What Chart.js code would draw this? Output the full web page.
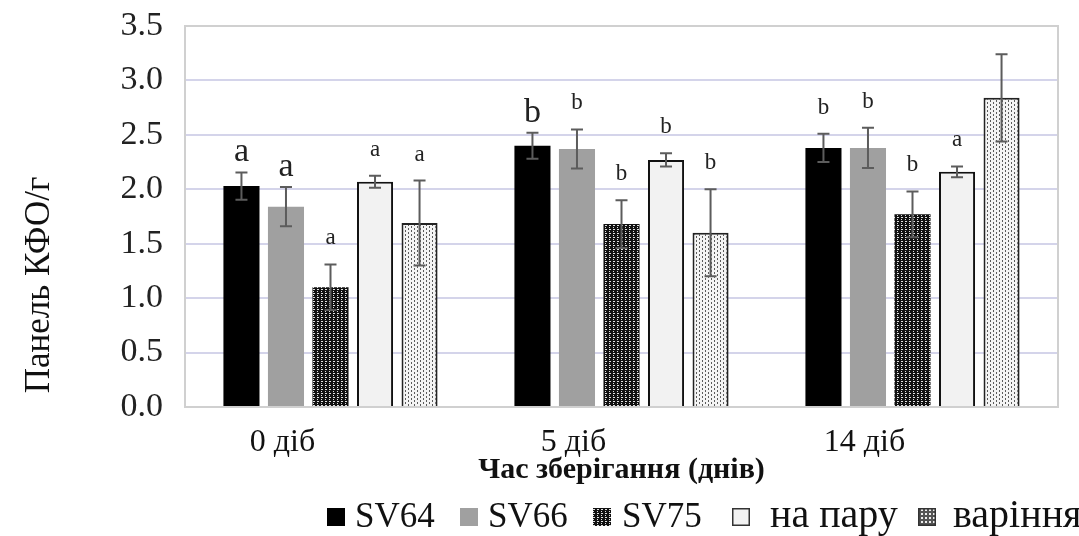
<!DOCTYPE html>
<html>
<head>
<meta charset="utf-8">
<script src="https://cdn.jsdelivr.net/npm/chart.js@4"></script>
<style>
  html, body { margin: 0; padding: 0; background: #fff; }
  #wrap { width: 1079px; height: 536px; position: relative; }
</style>
</head>
<body>
<div id="wrap"><canvas id="kfoChart"></canvas></div>
<script>
// дані
const categories = ["0 діб", "5 діб", "14 діб"];
const seriesNames = ["SV64", "SV66", "SV75", "на пару", "варіння"];

const sv64 = [2.03, 2.40, 2.38];
const sv66 = [1.84, 2.37, 2.38];
const sv75 = [1.10, 1.68, 1.77];
const naParu = [2.07, 2.27, 2.16];
const varinnia = [1.69, 1.60, 2.84];

const errSv64 = [0.125, 0.12, 0.13];
const errSv66 = [0.18, 0.18, 0.185];
const errSv75 = [0.21, 0.22, 0.21];
const errNaParu = [0.055, 0.06, 0.05];
const errVarinnia = [0.39, 0.40, 0.40];

const lettersSv64 = ["a", "b", "b"];
const lettersSv66 = ["a", "b", "b"];
const lettersSv75 = ["a", "b", "b"];
const lettersNaParu = ["a", "b", "a"];
const lettersVarinnia = ["a", "b", ""];

const yMin = 0;
const yMax = 3.5;
const yStep = 0.5;

const serif = "'Liberation Serif', 'Times New Roman', serif";

const canvas = document.getElementById("kfoChart");
const ctx = canvas.getContext("2d");

// візерунки заливки
function makePattern(bg, fg, w, h, rects) {
  const c = document.createElement("canvas");
  c.width = w;
  c.height = h;
  const p = c.getContext("2d");
  p.fillStyle = bg;
  p.fillRect(0, 0, w, h);
  p.fillStyle = fg;
  rects.forEach((r) => p.fillRect(r[0], r[1], r[2], r[3]));
  return ctx.createPattern(c, "repeat");
}

const checkDark = makePattern("#111", "#e0e0e0", 4, 4, [[1, 1, 2, 1], [1, 3, 1, 1]]);
const dotsLight = makePattern("#f4f4f4", "#5a5a5a", 6, 4, [[0, 0, 1, 2], [3, 2, 1, 2]]);
const dotsLegend = makePattern("#555", "#eee", 4, 4, [[1, 1, 2, 2]]);

const fills = ["#000000", "#a0a0a0", checkDark, "#f2f2f2", dotsLight];
const legendFills = ["#000000", "#a0a0a0", checkDark, "#f2f2f2", dotsLegend];
const borders = ["#000000", "#a0a0a0", "#111111", "#111111", "#222222"];
const borderWidths = [0, 0, 0, 2, 2];

const values = [sv64, sv66, sv75, naParu, varinnia];
const errors = [errSv64, errSv66, errSv75, errNaParu, errVarinnia];
const letters = [lettersSv64, lettersSv66, lettersSv75, lettersNaParu, lettersVarinnia];
// великі літери (набір_категорія)
const bigLetters = ["0_0", "1_0", "0_1"];

const datasets = seriesNames.map((name, i) => ({
  label: name,
  data: values[i],
  errors: errors[i],
  letters: letters[i],
  backgroundColor: fills[i],
  borderColor: borders[i],
  borderWidth: borderWidths[i],
  borderSkipped: "bottom",
  categoryPercentage: 0.765,
  barPercentage: 0.81,
}));

// рамка області графіка
const framePlugin = {
  id: "frame",
  beforeDatasetsDraw(chart) {
    const a = chart.chartArea;
    const c = chart.ctx;
    c.save();
    c.strokeStyle = "#d0d0d0";
    c.lineWidth = 2;
    c.strokeRect(a.left, a.top, a.right - a.left, a.bottom - a.top);
    c.restore();
  },
};

// похибки та літери над стовпчиками
const errorPlugin = {
  id: "errorBars",
  afterDatasetsDraw(chart) {
    const c = chart.ctx;
    const y = chart.scales.y;
    c.save();
    chart.data.datasets.forEach((ds, i) => {
      const meta = chart.getDatasetMeta(i);
      meta.data.forEach((bar, j) => {
        const v = ds.data[j];
        const e = ds.errors[j];
        const yt = y.getPixelForValue(v + e);
        const yb = y.getPixelForValue(v - e);
        const x = bar.x;
        c.strokeStyle = "#5c5c5c";
        c.lineWidth = 2;
        c.beginPath();
        c.moveTo(x, yt);
        c.lineTo(x, yb);
        c.moveTo(x - 6, yt);
        c.lineTo(x + 6, yt);
        c.moveTo(x - 6, yb);
        c.lineTo(x + 6, yb);
        c.stroke();

        const l = ds.letters[j];
        if (l) {
          const big = bigLetters.includes(i + "_" + j);
          c.fillStyle = "#222";
          c.font = (big ? "34px " : "23px ") + serif;
          c.textAlign = "center";
          c.textBaseline = "alphabetic";
          c.fillText(l, x, yt - (big ? 11 : 20));
        }
      });
    });
    c.restore();
  },
};

// підпис осі Y та легенда
const textPlugin = {
  id: "texts",
  afterDraw(chart) {
    const c = chart.ctx;
    c.save();
    c.fillStyle = "#111";
    c.font = "35px " + serif;
    c.textAlign = "center";
    c.textBaseline = "middle";
    c.translate(40, 285);
    c.rotate(-Math.PI / 2);
    c.fillText("Панель КФО/г", 0, 0);
    c.restore();

    // легенда
    const items = [
      { box: 327, text: 355, size: 35 },
      { box: 460, text: 488, size: 35 },
      { box: 593, text: 622, size: 35 },
      { box: 732, text: 770, size: 40 },
      { box: 918, text: 953, size: 40 },
    ];
    c.save();
    chart.data.datasets.forEach((ds, i) => {
      const it = items[i];
      c.fillStyle = legendFills[i];
      c.fillRect(it.box, 508, 18, 18);
      if (i >= 3) {
        c.strokeStyle = "#333";
        c.lineWidth = 1.5;
        c.strokeRect(it.box + 0.75, 508.75, 16.5, 16.5);
      }
      c.fillStyle = "#111";
      c.font = it.size + "px " + serif;
      c.textAlign = "left";
      c.textBaseline = "alphabetic";
      c.fillText(ds.label, it.text, 527);
    });
    c.restore();
  },
};

new Chart(ctx, {
  type: "bar",
  data: {
    labels: categories,
    datasets: datasets,
  },
  options: {
    responsive: true,
    maintainAspectRatio: false,
    animation: false,
    layout: {
      padding: { top: 26, right: 21, bottom: 46, left: 0 },
    },
    plugins: {
      legend: { display: false },
      tooltip: { enabled: false },
    },
    scales: {
      x: {
        grid: { display: false },
        border: { display: false },
        ticks: {
          color: "#111",
          font: { family: serif, size: 32 },
          padding: 8,
          labelOffset: -48,
        },
        title: {
          display: true,
          text: "Час зберігання (днів)",
          color: "#111",
          font: { family: serif, size: 30, weight: "bold" },
          padding: { top: 0, bottom: 2 },
        },
        afterFit: (s) => {
          s.height = 83;
          s.paddingLeft = 0;
          s.paddingRight = 0;
        },
      },
      y: {
        min: yMin,
        max: yMax,
        ticks: {
          stepSize: yStep,
          color: "#222",
          font: { family: serif, size: 34 },
          padding: 22,
          callback: (v) => Number(v).toFixed(1),
        },
        grid: { color: "#d4d4ea", lineWidth: 2, drawTicks: false },
        border: { display: false },
        afterFit: (s) => {
          s.width = 185;
          s.paddingTop = 0;
          s.paddingBottom = 0;
        },
      },
    },
  },
  plugins: [framePlugin, errorPlugin, textPlugin],
});
</script>
</body>
</html>
